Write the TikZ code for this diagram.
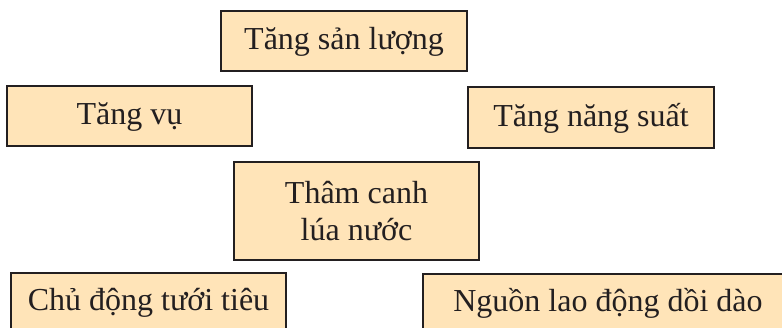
\documentclass[tikz,border=0pt]{standalone}
\usepackage{fontspec}
\setmainfont{Liberation Serif}
\definecolor{boxfill}{HTML}{FFE4B8}
\definecolor{ink}{HTML}{231F20}
\begin{document}
\begin{tikzpicture}[x=1pt,y=-1pt,
  box/.style={draw=ink, line width=2.4pt, fill=boxfill, rectangle, inner sep=0pt,
    text=ink, font=\fontsize{32}{38}\selectfont},
  onebox/.style={box, text height=22pt, text depth=4.5pt}]
\useasboundingbox (0,0) rectangle (782,328);
\clip (0,0) rectangle (782,328);
\fill[white] (0,0) rectangle (782,328);
\node[onebox, minimum width=246pt, minimum height=60pt] (sanluong) at (344,41) {Tăng sản lượng};
\node[onebox, minimum width=245pt, minimum height=60pt] (vu) at (129.5,116) {Tăng vụ};
\node[onebox, minimum width=246pt, minimum height=61pt] (nangsuat) at (591,117.5) {Tăng năng suất};
\node[box, align=center, minimum width=245pt, minimum height=98pt] (thamcanh) at (356.5,211) {Thâm canh\\[-0.5pt]lúa nước};
\node[onebox, minimum width=275pt, minimum height=58pt] (tuoitieu) at (148.5,302) {Chủ động tưới tiêu};
\node[onebox, minimum width=370pt, minimum height=58pt] (laodong) at (608,303) {Nguồn lao động dồi dào};
\end{tikzpicture}
\end{document}
